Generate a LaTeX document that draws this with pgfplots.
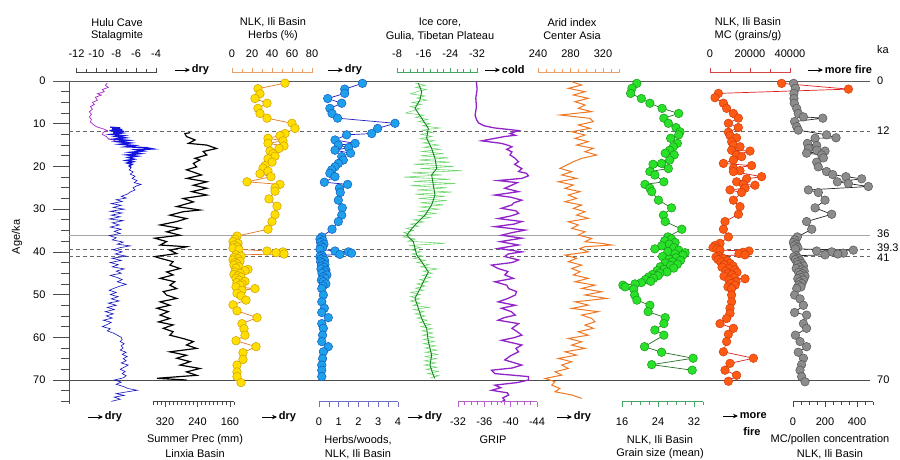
\documentclass[border=0pt]{standalone}
\usepackage{fontspec}
\setmainfont{Liberation Sans}
\usepackage{pgfplots}
\usepackage{pgfplotstable}
\pgfplotsset{compat=1.18}
\usetikzlibrary{arrows.meta}

\definecolor{huluP}{RGB}{165,40,200}
\definecolor{huluB}{RGB}{20,20,220}
\definecolor{yelF}{RGB}{255,222,0}
\definecolor{yelD}{RGB}{205,160,0}
\definecolor{yelL}{RGB}{225,120,40}
\definecolor{bluF}{RGB}{30,160,235}
\definecolor{bluD}{RGB}{20,90,190}
\definecolor{bluL}{RGB}{30,30,190}
\definecolor{iceL}{RGB}{110,215,110}
\definecolor{iceD}{RGB}{20,130,30}
\definecolor{grip}{RGB}{145,35,200}
\definecolor{arid}{RGB}{238,120,35}
\definecolor{grnF}{RGB}{40,225,40}
\definecolor{grnD}{RGB}{25,150,25}
\definecolor{grnL}{RGB}{35,110,35}
\definecolor{redF}{RGB}{255,90,20}
\definecolor{redD}{RGB}{205,60,10}
\definecolor{redL}{RGB}{220,30,30}
\definecolor{gryF}{RGB}{140,140,140}
\definecolor{gryD}{RGB}{85,85,85}
\definecolor{barK}{RGB}{70,70,70}
\definecolor{barO}{RGB}{232,160,110}
\definecolor{barB}{RGB}{110,110,200}
\definecolor{barG}{RGB}{70,165,100}
\definecolor{barP}{RGB}{180,100,200}
\definecolor{barR}{RGB}{210,70,70}

% ---------------- data (a = age ka, v = value) ----------------
\pgfplotstableread{
a v
0.5 -8.9
1.0 -9.1
1.5 -8.8
2.0 -9.4
2.5 -9.2
3.0 -9.9
3.3 -9.5
3.8 -10.1
4.5 -9.9
5.0 -10.4
5.5 -10.2
6.0 -10.6
6.6 -10.4
7.2 -10.7
7.8 -10.5
8.4 -10.7
9.0 -10.5
9.6 -10.6
10.2 -10.3
10.7 -10.0
11.0 -9.6
11.3 -9.2
11.6 -8.9
12.0 -9.3
12.5 -9.4
13.0 -9.0
13.5 -8.8
13.9 -8.2
14.2 -7.9
}\huluP
\pgfplotstableread{
a v
10.8 -8.6
11.0 -7.6
11.2 -8.4
11.4 -7.4
11.6 -8.7
11.8 -7.2
12.0 -8.3
12.2 -7.5
12.5 -8.5
12.8 -7.3
13.0 -8.0
13.3 -7.1
13.6 -8.2
13.9 -6.8
14.2 -7.9
14.5 -6.6
14.8 -7.6
15.1 -6.2
15.4 -7.0
15.6 -5.0
15.9 -4.3
16.1 -6.0
16.4 -5.3
16.7 -6.6
17.0 -5.6
17.3 -6.9
17.6 -5.9
17.9 -6.8
18.3 -6.2
18.6 -7.0
18.9 -6.3
19.2 -6.9
19.5 -6.4
19.9 -6.7
20.3 -6.5
}\huluBa
\pgfplotstableread{
a v
20.3 -6.5
20.8 -6.7
21.3 -6.3
21.8 -6.6
22.3 -6.1
22.8 -6.4
23.3 -5.9
23.8 -6.2
24.2 -5.5
24.6 -6.0
25.0 -6.3
25.5 -6.1
26.0 -6.6
26.5 -6.9
27.0 -7.5
27.4 -7.0
27.8 -8.0
28.2 -7.4
28.7 -8.5
29.1 -7.5
29.6 -8.3
30.0 -7.2
30.5 -8.6
30.9 -7.4
31.4 -8.5
31.8 -7.6
32.3 -8.7
32.7 -7.3
33.2 -8.4
33.7 -7.7
34.2 -8.6
34.7 -7.5
35.2 -8.2
35.7 -7.6
36.2 -8.7
36.7 -8.0
37.2 -8.4
37.7 -7.3
38.2 -7.9
38.6 -6.6
39.0 -7.6
39.5 -8.3
40.0 -7.4
40.5 -8.1
41.0 -7.0
41.5 -8.4
42.0 -7.5
42.5 -8.6
43.0 -7.8
43.5 -8.4
44.0 -7.2
44.5 -8.0
45.0 -7.5
45.5 -8.6
46.0 -7.9
46.5 -7.4
47.0 -7.9
47.6 -7.0
48.0 -7.6
48.5 -8.2
49.0 -8.7
49.5 -8.0
50.0 -8.6
50.5 -7.8
51.0 -8.5
51.5 -7.7
52.0 -8.8
52.5 -8.0
53.0 -8.9
53.5 -8.2
54.0 -9.1
54.5 -8.3
55.0 -9.0
55.5 -8.4
56.0 -9.3
56.5 -8.5
57.0 -8.9
57.5 -9.4
58.0 -8.6
58.5 -8.9
59.0 -8.3
59.5 -7.9
60.0 -7.5
60.5 -7.4
61.0 -7.6
61.5 -7.2
62.0 -7.5
62.5 -7.3
63.0 -7.6
63.5 -7.0
64.0 -7.4
64.5 -6.9
65.0 -7.3
65.5 -7.0
66.0 -7.5
66.5 -6.8
67.0 -7.2
67.5 -7.6
68.0 -7.1
68.5 -7.4
69.0 -7.0
69.5 -7.3
70.0 -8.2
70.5 -7.5
71.0 -8.0
71.5 -7.3
72.0 -6.8
72.4 -5.9
72.8 -7.0
73.2 -8.0
73.6 -7.2
74.0 -8.2
74.5 -7.6
75.0 -8.5
}\huluBb
\pgfplotstableread{
a v
12.1 258
12.3 271
13.0 267
13.8 246
14.6 262
15.0 217
15.4 205
15.8 193
16.5 226
17.3 217
18.1 246
18.5 234
19.3 250
20.1 242
20.8 267
21.2 254
22.0 230
22.8 266
23.6 217
24.4 250
25.1 217
25.9 254
26.7 217
27.5 275
28.3 250
29.4 291
30.2 234
30.6 275
31.4 308
32.2 267
32.9 291
33.7 332
34.5 283
35.3 316
36.1 283
36.8 345
37.6 316
38.4 332
38.8 267
39.6 308
40.4 291
41.1 345
41.5 332
42.3 300
43.1 308
43.9 283
44.7 316
45.4 300
46.2 332
47.0 296
47.8 308
48.6 291
49.3 324
50.1 316
50.9 291
51.7 332
52.5 308
53.2 340
54.0 312
54.8 332
55.6 308
56.4 336
57.1 300
57.9 324
58.7 300
59.5 308
60.3 275
61.0 250
61.8 267
62.6 242
63.4 308
64.2 267
64.9 291
65.7 258
66.5 283
67.3 234
68.1 267
68.9 242
69.6 340
70.0 267
}\prec
\pgfplotstableread{
a v
0.5 53
1.8 26
3.0 28
4.1 23
5.2 35
6.4 26
7.6 28
8.7 35
9.9 60
11.1 63
12.3 53
12.8 48
13.4 36
14.0 51
14.6 36
15.2 52
15.8 47
16.4 38
17.0 41
17.6 43
18.2 36
19.0 40
19.8 33
20.4 31
21.1 36
21.7 28
22.4 39
23.6 15
24.2 48
25.0 43
25.8 43
27.6 37
29.3 45
31.3 43
32.9 40
34.7 36
36.3 5
37.0 3
37.6 1
38.0 6
38.4 2
38.8 5
39.1 1
39.4 7
39.8 35
40.0 51
40.2 44
40.5 52
40.7 4
41.0 9
41.3 2
41.6 6
41.9 1
42.2 8
42.5 3
42.8 5
43.1 2
43.5 7
43.8 4
44.1 16
44.4 13
44.7 3
45.0 8
45.3 2
45.6 6
45.9 9
46.2 4
46.6 7
46.9 13
47.2 5
47.5 10
47.8 8
48.2 4
48.6 23
49.0 10
49.7 5
50.3 9
51.3 14
52.4 1
53.8 5
55.4 25
56.8 10
58.0 12
59.5 13
60.8 4
62.2 24
63.6 11
65.2 11
66.5 5
68.1 5
69.2 5
70.6 9
}\herbs
\pgfplotstableread{
a v
0.55 2.2
1.9 1.3
2.9 1.3
4.1 0.44
5.2 1.15
6.4 0.55
7.6 0.66
8.7 0.94
9.9 3.85
11.1 2.97
12.3 2.67
12.6 1.4
13.8 0.81
14.6 1.83
15.0 0.98
15.6 1.5
16.2 0.81
16.9 1.6
17.7 1.15
18.5 1.23
19.3 0.98
20.1 0.81
20.8 0.64
21.6 0.55
22.4 0.81
23.7 0.27
24.2 1.45
25.1 1.03
26.1 1.08
27.9 0.98
29.7 1.18
31.4 1.15
32.9 0.98
34.7 0.66
36.5 0.14
37.0 0.05
37.4 0.20
37.8 0.08
38.2 0.25
38.6 0.10
39.0 0.18
39.4 0.05
39.8 0.81
40.0 1.49
40.3 1.65
40.6 1.06
40.8 0.15
41.1 0.05
41.4 0.22
41.7 0.10
42.0 0.28
42.3 0.08
42.6 0.18
43.0 0.30
43.3 0.12
43.6 0.25
44.0 0.10
44.3 0.35
44.7 0.30
45.0 0.15
45.4 0.40
45.8 0.22
46.2 0.30
46.6 0.12
47.0 0.22
47.5 0.35
48.0 0.20
48.6 0.14
50.1 0.22
51.7 0.14
53.2 0.27
54.2 0.14
55.4 0.47
56.8 0.14
57.9 0.22
59.5 0.18
61.0 0.14
62.2 0.47
63.4 0.22
65.0 0.18
66.5 0.14
67.7 0.14
69.2 0.14
}\hw
\pgfplotstableread{
a v
0.5 -14.4
2.5 -15.4
4.4 -14.9
6.4 -13.4
8.7 -15.4
11.1 -17.4
13.4 -16.9
15.8 -18.4
18.1 -19.4
20.5 -19.9
22.0 -18.4
24.4 -18.9
26.7 -19.4
29.0 -18.4
31.4 -16.4
33.7 -13.4
36.1 -10.9
37.6 -12.9
39.2 -13.4
40.7 -13.9
42.3 -15.4
44.7 -17.4
46.2 -16.4
48.6 -14.9
50.9 -13.4
53.2 -14.4
55.6 -15.4
57.9 -16.9
61.0 -17.4
64.2 -18.4
66.5 -17.9
68.9 -18.9
69.6 -19.4
}\iceD
\pgfplotstableread{
a v
0.5 -13.5
1.0 -16.5
1.5 -13.6
2.0 -16.8
2.5 -14.0
3.0 -12.0
3.5 -16.4
4.0 -14.0
4.5 -17.0
5.0 -12.6
5.5 -15.3
6.0 -12.0
6.5 -14.8
7.0 -12.5
7.5 -10.6
8.0 -16.0
8.5 -13.6
9.0 -17.2
9.5 -14.5
10.0 -18.0
10.5 -15.6
11.0 -20.9
11.5 -15.5
12.0 -18.8
12.5 -15.2
13.0 -18.5
13.5 -15.0
14.0 -19.2
14.5 -15.8
15.0 -20.5
15.5 -16.0
16.0 -21.0
16.5 -15.5
17.0 -22.0
17.5 -15.0
18.0 -23.5
18.5 -14.5
19.0 -24.0
19.5 -13.0
20.0 -25.0
20.5 -15.0
21.0 -27.5
21.5 -12.5
22.0 -21.5
22.5 -10.0
23.0 -24.0
23.5 -13.0
24.0 -25.5
24.5 -12.0
25.0 -23.0
25.5 -14.0
26.0 -24.5
26.5 -13.5
27.0 -22.5
27.5 -14.5
28.0 -23.0
28.5 -15.0
29.0 -22.0
29.5 -15.0
30.0 -20.5
30.5 -14.8
31.0 -19.5
31.5 -14.5
32.0 -18.0
32.5 -13.0
33.0 -16.0
33.5 -12.0
34.0 -14.5
34.5 -10.8
35.0 -13.0
35.5 -10.0
36.0 -12.0
36.5 -9.8
37.0 -13.5
37.5 -11.2
38.0 -22.4
38.5 -12.0
39.0 -15.0
39.5 -12.0
40.0 -15.2
40.5 -12.5
41.0 -15.8
41.5 -13.0
42.0 -16.5
42.5 -14.0
43.0 -17.6
43.5 -15.0
44.0 -20.2
44.5 -15.8
45.0 -18.6
45.5 -15.6
46.0 -18.0
46.5 -14.8
47.0 -17.2
47.5 -14.0
48.0 -16.5
48.5 -13.5
49.0 -16.0
49.5 -12.2
50.0 -15.0
50.5 -12.0
51.0 -14.8
51.5 -12.0
52.0 -15.0
52.5 -12.8
53.0 -17.5
53.5 -13.0
54.0 -16.0
54.5 -13.5
55.0 -16.5
55.5 -14.0
56.0 -17.0
56.5 -14.8
57.0 -18.0
57.5 -15.2
58.0 -18.5
58.5 -15.5
59.0 -18.8
59.5 -15.6
60.0 -19.0
60.5 -16.0
61.0 -19.2
61.5 -16.0
62.0 -19.5
62.5 -16.4
63.0 -20.0
63.5 -16.6
64.0 -20.2
64.5 -16.5
65.0 -19.8
65.5 -16.3
66.0 -19.6
66.5 -16.2
67.0 -20.0
67.5 -16.8
68.0 -20.4
68.5 -17.2
69.0 -20.6
69.5 -18.0
}\iceL
\pgfplotstableread{
a v
0.2 -34.8
2.0 -34.9
4.0 -34.7
6.0 -34.8
8.0 -34.6
9.0 -34.8
9.8 -35.1
10.5 -36.0
11.0 -37.6
11.6 -41.2
12.3 -39.9
12.7 -40.7
13.0 -39.1
13.6 -37.0
14.0 -35.6
14.6 -38.6
15.0 -39.5
15.4 -40.2
16.0 -39.4
16.6 -40.2
17.3 -39.9
18.0 -40.6
18.9 -41.2
19.5 -40.6
20.5 -41.7
21.2 -41.2
21.6 -42.4
22.2 -42.7
22.8 -41.7
23.3 -38.1
23.8 -41.0
24.5 -40.0
25.1 -39.1
25.9 -41.2
26.7 -37.6
27.2 -40.0
27.9 -41.7
28.5 -40.5
29.0 -40.2
29.8 -38.6
30.4 -40.8
31.0 -41.2
31.6 -40.0
32.2 -38.1
32.9 -41.7
33.5 -40.5
34.1 -37.6
34.9 -42.2
35.5 -40.2
36.1 -38.6
36.8 -41.7
37.6 -38.4
38.4 -41.2
39.2 -38.1
40.0 -41.7
40.5 -39.6
41.1 -39.1
41.9 -41.2
42.5 -40.2
43.1 -37.1
43.9 -38.1
44.6 -39.6
45.4 -39.1
46.2 -40.4
47.0 -37.6
47.8 -39.4
48.6 -39.7
49.3 -40.9
50.1 -40.7
50.9 -39.6
51.7 -38.1
52.5 -40.7
53.2 -38.6
54.0 -40.1
54.8 -40.7
55.4 -39.0
56.0 -38.1
56.8 -41.2
57.9 -40.2
58.7 -41.0
59.5 -41.7
60.1 -40.5
60.7 -38.6
61.2 -40.0
61.8 -41.7
62.6 -40.8
63.4 -41.2
64.3 -40.0
65.3 -39.1
66.0 -40.6
66.5 -41.7
67.2 -40.2
67.7 -37.1
68.5 -37.6
69.2 -42.7
70.0 -42.7
70.6 -41.0
71.2 -37.6
71.8 -38.5
72.4 -37.1
73.0 -39.5
73.5 -39.7
74.2 -38.8
74.7 -39.1
75.2 -38.5
}\gripdata
\pgfplotstableread{
a v
0.16 281.5
0.94 293.8
1.72 277.3
2.5 297.8
3.28 283.5
4.06 301.9
4.84 285.5
5.62 297.8
6.4 289.6
7.18 306.1
7.96 267
8.74 304
9.52 308.1
10.3 289.6
11.08 304
11.87 281.5
12.65 297.8
13.43 285.5
14.2 301.9
15.0 287.5
15.77 308.1
16.55 297.8
17.33 312.2
18.1 293.8
18.9 283.5
19.67 275.3
20.45 267
21.23 281.5
22.0 269.2
22.8 287.5
23.58 265
24.36 283.5
25.14 273.2
25.9 291.7
26.7 277.3
27.48 287.5
28.26 273.2
29.04 293.8
29.82 283.5
30.6 297.8
31.38 287.5
32.16 301.9
32.94 277.3
33.72 289.6
34.5 281.5
35.28 297.8
36.07 289.6
36.85 306.1
37.63 297.8
38.0 318.4
38.4 330.7
38.8 297.8
39.2 291.7
40.0 301.9
40.75 273.2
41.5 287.5
42.3 277.3
43.1 293.8
43.9 281.5
44.65 291.7
45.4 283.5
46.2 301.9
47.0 285.5
47.8 310.2
48.56 293.8
49.34 318.4
50.1 297.8
50.9 324.5
51.7 285.5
52.46 301.9
53.24 281.5
54.0 314.2
54.8 293.8
55.6 306.1
56.36 310.2
57.14 297.8
57.9 308.1
58.7 289.6
59.5 301.9
60.27 277.3
61.05 293.8
61.83 281.5
62.6 297.8
63.4 273.2
64.17 287.5
64.95 265
65.73 281.5
66.5 269.2
67.3 277.3
68.07 260.9
68.85 269.2
69.63 248.6
70.4 260.9
71.2 256.8
71.97 267
72.75 260.9
73.5 281.5
74.3 293.8
}\ariddata
\pgfplotstableread{
a v
0.55 19.3
1.7 18.2
2.9 17.9
4.1 20.3
5.2 22.2
6.4 24.9
7.6 28.6
8.7 25.3
9.9 26.3
10.9 28.0
11.9 28.9
12.6 28.6
13.4 26.8
14.6 28.3
15.4 27.4
16.2 26.6
16.9 25.6
17.3 27.6
18.5 26.6
19.3 24.8
19.5 22.9
20.5 26.3
21.2 22.2
22.0 23.3
23.6 25.3
24.2 21.1
25.1 22.2
25.9 22.6
27.9 24.1
29.7 27.0
31.4 25.2
32.9 25.6
34.7 29.3
36.5 26.2
37.0 27.0
37.4 25.5
37.8 27.8
38.2 26.5
38.6 24.8
39.0 27.5
39.3 23.3
39.6 28.6
39.9 26.2
40.2 30.0
40.5 27.8
40.8 29.5
41.1 25.0
41.4 28.0
41.7 26.5
42.0 29.0
42.3 27.2
42.6 25.6
42.9 28.3
43.2 26.8
43.5 24.5
43.8 27.5
44.1 25.3
44.4 23.8
44.7 26.0
45.0 24.4
45.3 22.8
45.6 24.0
45.9 21.9
46.2 23.0
46.5 21.2
46.9 22.4
47.2 20.3
47.5 18.9
47.8 16.2
48.2 16.7
48.7 18.6
50.1 18.8
51.3 19.3
52.5 22.2
54.0 21.8
55.4 25.6
56.8 25.3
58.3 23.3
59.5 25.3
62.2 21.0
63.5 24.8
64.9 31.8
66.4 22.6
67.7 31.6
}\grain
\pgfplotstableread{
a v
0.55 35800
1.9 69200
2.9 4200
3.9 2500
5.2 6700
6.4 8300
7.6 11700
8.7 14200
9.9 9200
10.9 14200
12.0 9200
12.8 10000
13.3 13300
14.2 10800
15.0 11700
15.4 15000
16.2 10800
16.4 20000
17.3 13300
17.7 15800
18.5 11700
19.3 6700
19.8 20800
20.4 11700
21.0 15000
21.2 11700
22.4 25800
22.9 18300
23.6 13300
24.2 16700
24.4 22500
25.1 17500
25.5 10000
26.1 15800
27.9 11700
29.4 15000
31.2 14200
32.9 7500
34.7 6700
36.5 9200
38.0 5000
38.5 2500
39.0 1500
39.3 3500
39.6 5000
39.8 19500
40.1 16500
40.4 14500
40.7 17500
40.9 4500
41.2 3000
41.5 6500
41.8 4000
42.1 8500
42.4 5500
42.7 10000
43.0 7000
43.3 11500
43.6 6000
43.9 9500
44.2 12500
44.5 8000
44.8 13500
45.1 9000
45.4 11000
45.7 7000
46.0 12000
46.3 17500
46.6 9500
47.0 13000
47.4 10500
47.8 12500
48.2 9000
48.6 10800
50.1 10800
51.7 10800
53.2 10000
54.4 10000
55.6 8300
56.8 5000
57.9 11700
59.3 9200
61.0 8300
63.4 6700
64.9 21700
66.1 10000
67.7 7500
68.9 13300
70.3 9200
}\mc
\pgfplotstableread{
a v
0.55 4
1.7 15
2.9 6
4.1 6
5.2 8
6.4 23
7.6 33
8.4 65
8.7 186
9.5 10
10.7 23
11.5 33
12.6 210
13.3 269
13.4 138
14.6 90
15.1 148
15.8 96
16.2 148
16.4 200
16.9 85
17.3 179
18.0 190
19.0 148
20.1 158
21.2 210
21.9 248
22.4 331
22.9 429
23.6 277
24.0 346
24.7 471
25.5 96
26.1 158
27.9 200
29.7 138
31.2 242
32.9 85
34.7 117
36.5 27
37.2 10
37.8 2
38.2 20
38.6 8
39.0 30
39.3 15
39.6 377
39.8 148
40.0 242
40.3 315
40.5 280
40.7 200
40.9 20
41.2 5
41.5 35
41.8 15
42.1 45
42.4 25
42.7 55
43.0 30
43.3 65
43.6 40
43.9 20
44.2 55
44.5 70
44.8 35
45.1 60
45.4 45
45.7 75
46.0 50
46.3 30
46.6 65
47.0 40
47.4 55
47.8 35
48.2 50
48.6 23
50.1 10
51.0 44
52.5 65
54.2 10
54.8 85
56.8 65
57.9 85
59.5 15
61.0 44
62.2 85
63.5 33
64.9 65
66.4 54
67.7 44
69.2 54
70.4 75
}\mcpol

\pgfplotsset{
  panel/.style={scale only axis, height=322.5pt, ymin=0, ymax=75.5,
    y dir=reverse, hide axis, clip=false, anchor=north west},
  bar/.style={scale only axis, height=1pt, ymin=0, ymax=1, axis y line=none,
    tick align=outside, major tick length=5pt, minor tick length=3.5pt,
    axis line style={-, draw=#1, line width=0.6pt},
    tick style={draw=#1, line width=0.6pt}, scaled x ticks=false,
    xticklabel style={font=\fontsize{11}{13}\selectfont,
      /pgf/number format/1000 sep={}, /pgf/number format/assume math mode=true},
    clip=false},
  topbar/.style={axis x line=top, bar=#1, anchor=north west, xticklabel shift=7pt},
  botbar/.style={axis x line=bottom, bar=#1, anchor=south west, xticklabel shift=8pt},
  mk/.style n args={3}{color=#3, line width=0.7pt, mark=*, mark size=4.3pt,
    mark options={fill=#1, draw=#2, line width=0.5pt, solid}},
}
\newcommand{\dirarrow}[3]{\draw[-{Stealth[length=5pt,width=4.5pt]}, line width=0.9pt]
  (#1pt,-#2pt) -- ++(15pt,0) node[anchor=west, inner sep=1.5pt,
  font=\bfseries\fontsize{11}{13}\selectfont] {#3};}
\newcommand{\lab}[3]{\node[font=\fontsize{11}{13}\selectfont, inner sep=0pt] at (#1pt,-#2pt) {#3};}

\begin{document}
\begin{tikzpicture}
\useasboundingbox (0,0) rectangle (900pt,-460pt);

% ---- frame with age axis ----
\begin{axis}[at={(69pt,-81pt)}, anchor=north west, scale only axis,
  width=801pt, height=322.5pt, xmin=0, xmax=801, ymin=0, ymax=75.5,
  y dir=reverse, axis x line=none, axis y line=left,
  axis line style={-, draw=black!70, line width=0.7pt},
  ytick={0,10,...,70}, minor ytick={0,2.5,...,75},
  tick align=outside, major tick length=16pt, minor tick length=8pt,
  tick style={draw=black!70, line width=0.7pt},
  yticklabel style={font=\fontsize{11}{13}\selectfont, xshift=-4pt,
    /pgf/number format/assume math mode=true},
  clip=false]
  \draw[black!65, line width=0.7pt] (axis cs:-16,0) -- (axis cs:801,0);
  \draw[black!60, line width=0.7pt, dash pattern=on 4pt off 3pt] (axis cs:0,11.7) -- (axis cs:801,11.7);
  \draw[black!35, line width=1.4pt] (axis cs:0,36.1) -- (axis cs:801,36.1);
  \draw[black!60, line width=0.7pt, dash pattern=on 4pt off 3pt] (axis cs:0,39.3) -- (axis cs:801,39.3);
  \draw[black!60, line width=0.7pt, dash pattern=on 4pt off 3pt] (axis cs:0,41.0) -- (axis cs:801,41.0);
  \draw[black!70, line width=0.7pt] (axis cs:-16,70) -- (axis cs:801,70);
\end{axis}

% ---- 1 Hulu Cave ----
\begin{axis}[panel, at={(76.5pt,-81pt)}, width=79.5pt, xmin=-12, xmax=-4]
  \addplot[huluP, line width=0.7pt] table[x=v,y=a] {\huluP};
  \addplot[huluB, line width=1.4pt] table[x=v,y=a] {\huluBa};
  \addplot[huluB!85!black, line width=0.6pt] table[x=v,y=a] {\huluBb};
\end{axis}
\begin{axis}[topbar=barK, at={(76.5pt,-72.7pt)}, width=79.5pt, xmin=-12, xmax=-4,
  xtick={-12,-10,...,-4}, minor xtick={-11,-9,...,-5}]
\end{axis}

% ---- 2 Summer precipitation ----
\begin{axis}[panel, at={(152.8pt,-81pt)}, width=81.2pt, xmin=150, xmax=350, x dir=reverse]
  \addplot[black, line width=1.2pt] table[x=v,y=a] {\prec};
\end{axis}
\begin{axis}[botbar=barK, at={(152.8pt,-401.7pt)}, width=81.2pt, xmin=150, xmax=350, x dir=reverse,
  xtick={160,240,320}, minor xtick={150,170,180,190,200,210,220,230,250,260,270,280,290,300,310,330,340,350}]
\end{axis}

% ---- 3 Herbs % ----
\begin{axis}[panel, at={(232pt,-81pt)}, width=80pt, xmin=0, xmax=80]
  \addplot[mk={yelF}{yelD}{yelL}] table[x=v,y=a] {\herbs};
\end{axis}
\begin{axis}[topbar=barO, at={(232pt,-72.7pt)}, width=80pt, xmin=0, xmax=80,
  xtick={0,20,...,80}, minor xtick={10,30,50,70}]
\end{axis}

% ---- 4 Herbs/woods ----
\begin{axis}[panel, at={(319pt,-81pt)}, width=79pt, xmin=0, xmax=4]
  \addplot[mk={bluF}{bluD}{bluL}] table[x=v,y=a] {\hw};
\end{axis}
\begin{axis}[botbar=barB, at={(319pt,-401.7pt)}, width=79pt, xmin=0, xmax=4,
  xtick={0,1,...,4}, minor xtick={0.5,1.5,2.5,3.5}, minor tick length=5pt]
\end{axis}

% ---- 5 Guliya ice core ----
\begin{axis}[panel, at={(397pt,-81pt)}, width=80pt, xmin=-32, xmax=-8, x dir=reverse]
  \addplot[iceL, line width=0.6pt] table[x=v,y=a] {\iceL};
  \addplot[iceD, line width=0.9pt] table[x=v,y=a] {\iceD};
\end{axis}
\begin{axis}[topbar=barG, at={(397pt,-72.7pt)}, width=80pt, xmin=-32, xmax=-8, x dir=reverse,
  xtick={-32,-24,-16,-8}, minor xtick={-30,-28,-26,-22,-20,-18,-14,-12,-10}]
\end{axis}

% ---- 6 GRIP ----
\begin{axis}[panel, at={(458pt,-81pt)}, width=79pt, xmin=-44, xmax=-32, x dir=reverse]
  \addplot[grip, line width=1.3pt] table[x=v,y=a] {\gripdata};
\end{axis}
\begin{axis}[botbar=barP, at={(458pt,-401.7pt)}, width=79pt, xmin=-44, xmax=-32, x dir=reverse,
  xtick={-44,-40,-36,-32}, minor xtick={-43,-42,-41,-39,-38,-37,-35,-34,-33}]
\end{axis}

% ---- 7 Arid index ----
\begin{axis}[panel, at={(538pt,-81pt)}, width=81.25pt, xmin=240, xmax=340]
  \addplot[arid, line width=1.0pt] table[x=v,y=a] {\ariddata};
\end{axis}
\begin{axis}[topbar=barO, at={(538pt,-72.7pt)}, width=81.25pt, xmin=240, xmax=340,
  xtick={240,280,320}, minor xtick={250,260,270,290,300,310,330,340}]
\end{axis}

% ---- 8 Grain size ----
\begin{axis}[panel, at={(622pt,-81pt)}, width=81pt, xmin=16, xmax=34]
  \addplot[mk={grnF}{grnD}{grnL}] table[x=v,y=a] {\grain};
\end{axis}
\begin{axis}[botbar=barG, at={(622pt,-401.7pt)}, width=81pt, xmin=16, xmax=34,
  xtick={16,24,32}, minor xtick={18,20,22,26,28,30,34}]
\end{axis}

% ---- 9 MC ----
\begin{axis}[panel, at={(710pt,-81pt)}, width=80pt, xmin=0, xmax=40000]
  \addplot[mk={redF}{redD}{redL}] table[x=v,y=a] {\mc};
\end{axis}
\begin{axis}[topbar=barR, at={(710pt,-72.7pt)}, width=80pt, xmin=0, xmax=40000,
  xtick={0,20000,40000}, minor xtick={10000,30000}]
\end{axis}

% ---- 10 MC/pollen ----
\begin{axis}[panel, at={(793pt,-81pt)}, width=80pt, xmin=0, xmax=500]
  \addplot[mk={gryF}{gryD}{black!85}] table[x=v,y=a] {\mcpol};
\end{axis}
\begin{axis}[botbar=barK, at={(793pt,-401.7pt)}, width=80pt, xmin=0, xmax=500,
  xtick={0,200,400}, minor xtick={50,100,150,250,300,350,450,500}]
\end{axis}

% ---- titles ----
\lab{117}{22.7}{Hulu Cave}
\lab{117}{36}{Stalagmite}
\lab{273}{22.7}{NLK, Ili Basin}
\lab{273}{36}{Herbs (\%)}
\lab{440}{22.7}{Ice core,}
\lab{440}{36}{Gulia, Tibetan Plateau}
\lab{572}{22.7}{Arid index}
\lab{572}{36}{Center Asia}
\lab{748}{22.7}{NLK, Ili Basin}
\lab{748}{36}{MC (grains/g)}
\node[font=\fontsize{11}{13}\selectfont, anchor=west, inner sep=0pt] at (877pt,-50pt) {ka};

\lab{195}{440}{Summer Prec (mm)}
\lab{195}{454}{Linxia Basin}
\lab{358}{440}{Herbs/woods,}
\lab{358}{454}{NLK, Ili Basin}
\lab{493}{440}{GRIP}
\lab{660}{440}{NLK, Ili Basin}
\lab{660}{454}{Grain size (mean)}
\lab{830}{440}{MC/pollen concentration}
\lab{830}{454}{NLK, Ili Basin}

\node[rotate=90, font=\fontsize{11}{13}\selectfont, inner sep=0pt] at (17pt,-237pt) {Age/ka};

% right-hand age marks
\foreach \yy/\tt in {81/0,131/12,234/36,248/39.3,258/41,380/70}
  \node[font=\fontsize{11}{13}\selectfont, anchor=west, inner sep=0pt] at (877pt,-\yy pt) {\tt};

% direction arrows
\dirarrow{175}{70}{dry}
\dirarrow{328}{70}{dry}
\dirarrow{485}{70}{cold}
\dirarrow{808}{70}{more fire}
\dirarrow{88}{417}{dry}
\dirarrow{262}{417}{dry}
\dirarrow{408}{417}{dry}
\dirarrow{557}{417}{dry}
\dirarrow{723}{416}{more}
\node[font=\bfseries\fontsize{11}{13}\selectfont, inner sep=0pt] at (752pt,-432pt) {fire};
\end{tikzpicture}
\end{document}
